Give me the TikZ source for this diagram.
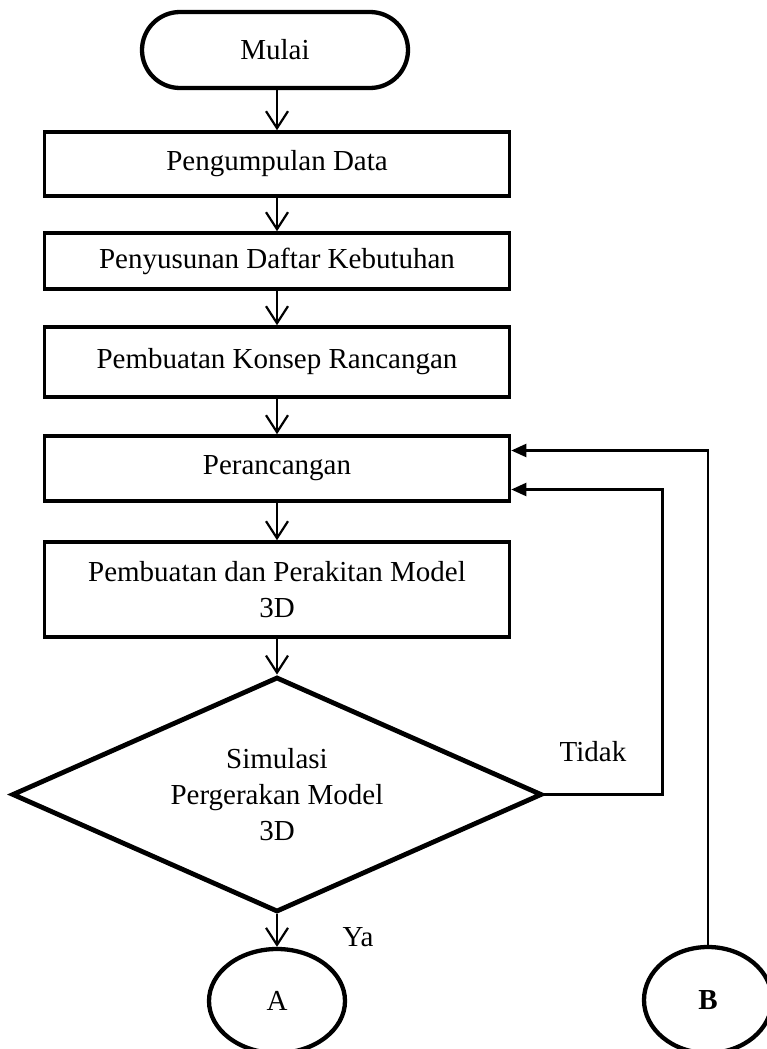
\documentclass[tikz,border=0pt]{standalone}
\usepackage{fontspec}
\setmainfont{Liberation Serif}
\usetikzlibrary{arrows.meta, positioning, shapes.geometric}
\tikzset{
  every picture/.style={x=1pt, y=-1pt, font=\fontsize{29}{36}\selectfont},
  terminal/.style={draw, line width=4.3pt, rounded corners=38pt, minimum width=266pt, minimum height=76pt},
  process/.style={draw, line width=3.6pt, minimum width=465pt, align=center, inner sep=0pt},
  decision/.style={diamond, draw, line width=4.8pt, shape aspect=2.255, minimum width=530pt, minimum height=235pt, inner sep=0pt, align=center},
  connector/.style={ellipse, draw, line width=4.3pt, minimum width=#1, minimum height=104pt, inner sep=0pt},
  connector/.default=136pt,
  arrow/.style={-{Straight Barb[length=17pt, width=22pt]}, line width=2.2pt},
  back/.style={-{Triangle[length=15pt, width=13pt]}, line width=2.2pt},
  note/.style={inner sep=0pt},
}

\begin{document}
\begin{tikzpicture}
  \useasboundingbox (0,0) rectangle (766,1049);
  \node[terminal] (mulai) at (275,50) {Mulai};
  \node[process, minimum height=64pt] (kumpul) at (277,164) {Pengumpulan Data};
  \node[process, minimum height=56pt] (daftar) at (277,261) {Penyusunan Daftar Kebutuhan};
  \node[process, minimum height=70pt] (konsep) at (277,362) {Pembuatan Konsep Rancangan};
  \node[process, minimum height=65pt] (rancang) at (277,468.5) {Perancangan};
  \node[process, minimum height=95pt] (model) at (277,589.5) {Pembuatan dan Perakitan Model\\3D};
  \node[decision] (sim) at (277,794.5) {Simulasi\\Pergerakan Model\\3D};
  \node[connector] (a) at (277,1001) {A};
  \node[connector=128pt, minimum height=106pt] (b) at (708,1000) {\bfseries B};
  \node[note] (tidak) at (593,752) {Tidak};
  \node[note] (ya) at (358,937) {Ya};
  % alur utama
  \draw[arrow] (mulai.south -| kumpul.north) -- (kumpul.north);
  \draw[arrow] (kumpul) -- (daftar);
  \draw[arrow] (daftar) -- (konsep);
  \draw[arrow] (konsep) -- (rancang);
  \draw[arrow] (rancang) -- (model);
  \draw[arrow] (model) -- (sim);
  \draw[arrow] (sim) -- (a);
  % kembali ke perancangan
  \draw[back] (sim.east) -- ++(118,0) |- ([yshift=-21pt]rancang.east);
  \draw[back] (b.north) |- ([yshift=18pt]rancang.east);
\end{tikzpicture}
\end{document}
